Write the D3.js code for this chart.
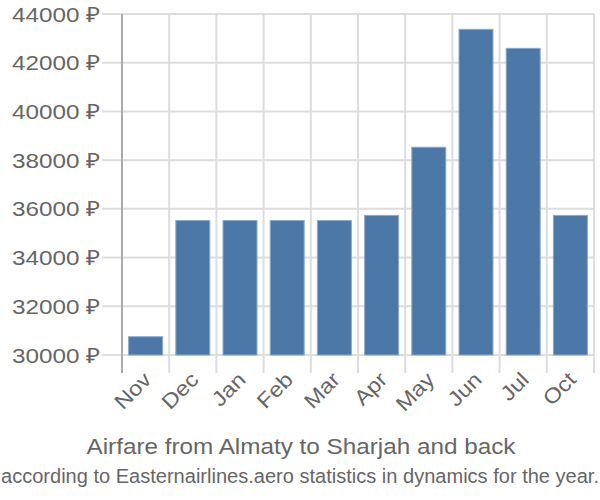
<!DOCTYPE html>
<html><head><meta charset="utf-8">
<script src="https://cdn.jsdelivr.net/npm/d3@7/dist/d3.min.js"></script>
<style>body{margin:0;background:#fff}svg{display:block}text{font-family:"Liberation Sans",Arial,sans-serif}</style>
</head><body><svg id="c" width="600" height="500"></svg>
<script>
const months = ["Nov","Dec","Jan","Feb","Mar","Apr","May","Jun","Jul","Oct"];
const prices = [30750,35520,35520,35520,35520,35730,38530,43370,42590,35730];
const yTicks = [30000,32000,34000,36000,38000,40000,42000,44000];
const title = "Airfare from Almaty to Sharjah and back";
const subtitle = "according to Easternairlines.aero statistics in dynamics for the year.";

const svg = d3.select("#c");
const L=122, R=594, T=14, B=355;
const x = d3.scaleBand().domain(months).range([L,R]).paddingInner(0.28).paddingOuter(0.14);
const y = d3.scaleLinear().domain([30000,44000]).range([B,T]);
const step = x.step();

const g = svg.append("g");
g.selectAll("line.h").data(yTicks).join("line")
  .attr("x1",102).attr("x2",R).attr("y1",d=>y(d)).attr("y2",d=>y(d))
  .attr("stroke","#ddd").attr("stroke-width",2);
const vx = months.map((m,i)=>L+i*step).concat([R]);
g.selectAll("line.v").data(vx).join("line")
  .attr("x1",d=>d).attr("x2",d=>d).attr("y1",T).attr("y2",373)
  .attr("stroke","#ddd").attr("stroke-width",2);
g.append("line").attr("x1",L).attr("x2",L).attr("y1",T).attr("y2",373)
  .attr("stroke","#aaa").attr("stroke-width",2);

g.selectAll("rect").data(months).join("rect")
  .attr("x",d=>x(d)).attr("width",x.bandwidth())
  .attr("y",(d,i)=>y(prices[i])).attr("height",(d,i)=>B-y(prices[i]))
  .attr("fill","#4c78a8").attr("stroke","#8aa9cc").attr("stroke-width",1);

g.selectAll("text.y").data(yTicks).join("text")
  .attr("x",100).attr("y",d=>y(d)).attr("dy","0.36em").attr("text-anchor","end")
  .attr("fill","#666").attr("font-size",21)
  .attr("textLength",88).attr("lengthAdjust","spacingAndGlyphs").text(d=>d+" ₽");

g.selectAll("text.x").data(months).join("text")
  .attr("transform",d=>`translate(${x(d)+x.bandwidth()/2+7},${381}) rotate(-45) scale(1.12,1)`)
  .attr("text-anchor","end").attr("fill","#666").attr("font-size",21).text(d=>d);

svg.append("text").attr("x",301).attr("y",454).attr("text-anchor","middle")
  .attr("fill","#666").attr("font-size",22)
  .attr("textLength",429).attr("lengthAdjust","spacingAndGlyphs").text(title);
svg.append("text").attr("x",300).attr("y",483).attr("text-anchor","middle")
  .attr("fill","#666").attr("font-size",20)
  .attr("textLength",598).attr("lengthAdjust","spacingAndGlyphs").text(subtitle);
</script></body></html>
